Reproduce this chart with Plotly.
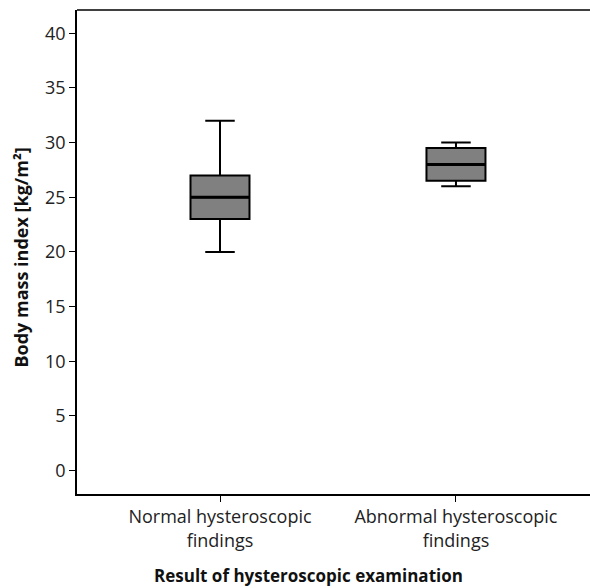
import plotly.graph_objects as go

categories = ["Normal hysteroscopic<br>findings", "Abnormal hysteroscopic<br>findings"]
positions = [0, 1]
lower_whisker = [20, 26]
q1_values = [23, 26.5]
median_values = [25, 28]
q3_values = [27, 29.5]
upper_whisker = [32, 30]
y_ticks = [0, 5, 10, 15, 20, 25, 30, 35, 40]
box_width = 0.25

fig = go.Figure()
fig.add_trace(go.Box(
    x=positions,
    q1=q1_values, median=median_values, q3=q3_values,
    lowerfence=lower_whisker, upperfence=upper_whisker,
    fillcolor="#808080",
    line=dict(color="black", width=2),
    width=box_width,
    whiskerwidth=0.5,
    boxpoints=False,
    hoverinfo="skip",
    showlegend=False,
))
# thicker median lines, as in the reference
for p, m in zip(positions, median_values):
    fig.add_trace(go.Scatter(
        x=[p - box_width / 2, p + box_width / 2], y=[m, m],
        mode="lines", line=dict(color="black", width=3),
        hoverinfo="skip", showlegend=False,
    ))

font_family = "Open Sans, Lato, sans-serif"
fig.update_layout(
    width=590, height=588,
    margin=dict(l=77, r=0, t=10, b=94),
    plot_bgcolor="white", paper_bgcolor="white",
    font=dict(family=font_family, color="#222222", size=18),
    xaxis=dict(
        range=[-0.606, 1.568],
        tickmode="array", tickvals=positions, ticktext=categories,
        ticks="outside", ticklen=6, tickwidth=1, tickcolor="black",
        showline=True, linecolor="black", linewidth=1.5,
        mirror=False, showgrid=False, zeroline=False,
        tickfont=dict(size=18, color="#222222"),
        automargin=False,
    ),
    yaxis=dict(
        range=[-2.15, 42.13],
        tickmode="array", tickvals=y_ticks,
        ticks="outside", ticklen=6, tickwidth=1, tickcolor="black",
        showline=True, linecolor="black", linewidth=1.5,
        showgrid=False, zeroline=False,
        tickfont=dict(size=18, color="#222222"),
        automargin=False,
    ),
    shapes=[dict(type="line", xref="paper", yref="paper", x0=0, x1=1, y0=1, y1=1,
                 line=dict(color="black", width=1.5))],
    annotations=[
        dict(text="<b>Result of hysteroscopic examination</b>", xref="paper", yref="paper",
             x=0.451, y=-0.1694, xanchor="center", yanchor="middle", showarrow=False,
             font=dict(size=17, color="#111111")),
        dict(text="<b>Body mass index [kg/m²]</b>", xref="paper", yref="paper",
             x=-0.111, y=0.4886, xanchor="center", yanchor="middle", showarrow=False,
             textangle=-90, font=dict(size=18, color="#111111")),
    ],
)

fig.write_html(
    "out.html",
    config={"displayModeBar": False},
    post_script="document.body.style.margin='0';document.body.style.overflow='hidden';",
)
